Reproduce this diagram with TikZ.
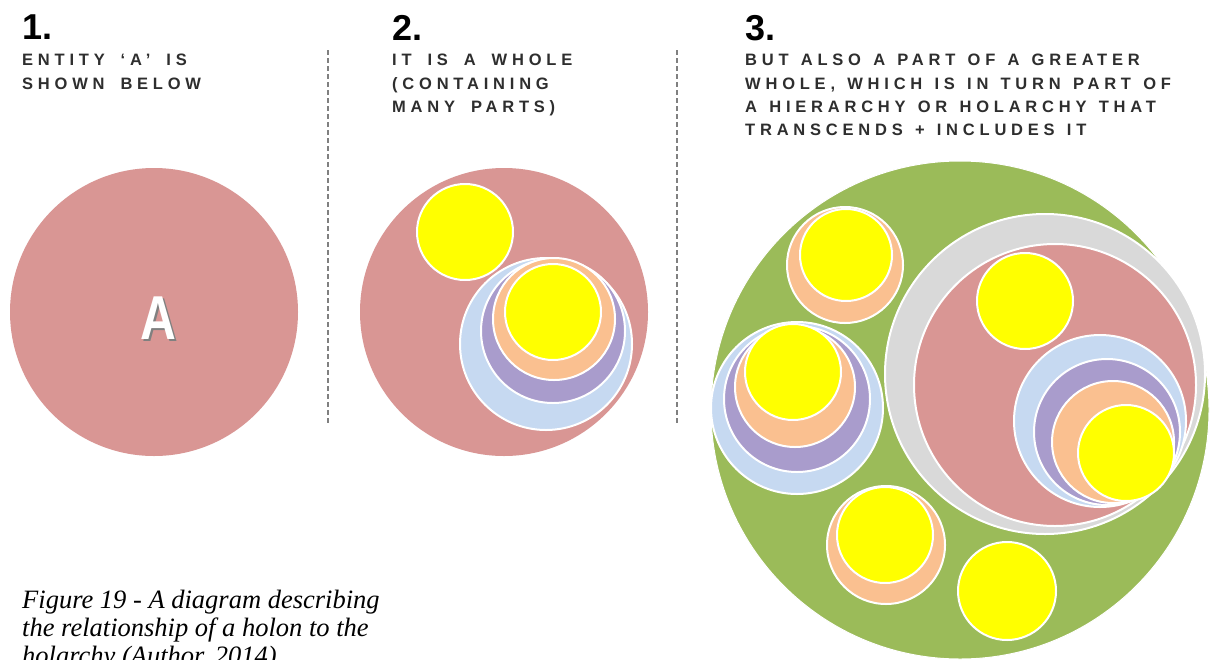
\documentclass[tikz,border=0pt]{standalone}
\usepackage{fontspec}
\setmainfont{Liberation Serif}
\setsansfont{Liberation Sans}
\newfontfamily\spacedfont[LetterSpace=29, WordSpace=1.7]{Liberation Sans}
\newcommand\tightspace{\spaceskip 12.2pt\relax}
\usetikzlibrary{positioning}

\definecolor{holonpink}{HTML}{D99694}
\definecolor{partyellow}{HTML}{FFFF00}
\definecolor{peach}{HTML}{FAC090}
\definecolor{lilac}{HTML}{A99CCC}
\definecolor{paleblue}{HTML}{C6D9F1}
\definecolor{ringgray}{HTML}{D9D9D9}
\definecolor{holagreen}{HTML}{9BBB59}
\definecolor{inkgray}{HTML}{2E2E2E}

\begin{document}
\begin{tikzpicture}[
    x=1pt, y=-1pt,
    disc/.style={fill=#1, draw=white, line width=2pt},
    heading/.style={anchor=north west, inner sep=0pt, text=black, font=\sffamily\bfseries\fontsize{36}{36}\selectfont},
    blurb/.style={anchor=north west, inner sep=0pt, align=left, text=inkgray, font=\spacedfont\bfseries\fontsize{16.5}{23.3}\selectfont},
    divider/.style={dash pattern=on 5pt off 3pt, gray, line width=1.2pt},
    bigletter/.style={inner sep=0pt, font=\sffamily\bfseries\fontsize{62}{62}\selectfont},
    caption/.style={anchor=north west, inner sep=0pt, align=left, font=\itshape\fontsize{26.5}{28}\selectfont}
]
    \useasboundingbox (0,0) rectangle (1231,659);
    \clip (0,0) rectangle (1231,659);
    \fill[white] (0,0) rectangle (1231,659);

    % Headings
    \node[heading] (num1) at (22,15) {1.};
    \node[heading] (num2) at (392,15) {2.};
    \node[heading] (num3) at (745,15) {3.};
    \node[blurb] (text1) at (22,54) {ENTITY ‘A’ IS\\SHOWN BELOW};
    \node[blurb] (text2) at (392,54) {IT IS A WHOLE\\(CONTAINING\\MANY PARTS)};
    \node[blurb] (text3) at (745,54) {\tightspace BUT ALSO A PART OF A GREATER\\\tightspace WHOLE, WHICH IS IN TURN PART OF\\\tightspace A HIERARCHY OR HOLARCHY THAT\\\tightspace TRANSCENDS + INCLUDES IT};

    % Dividers
    \coordinate (div1top) at (328,50);
    \coordinate (div1bot) at (328,425);
    \coordinate (div2top) at (677,50);
    \coordinate (div2bot) at (677,425);
    \draw[divider] (div1top) -- (div1bot);
    \draw[divider] (div2top) -- (div2bot);

    % Panel 1: the entity
    \fill[holonpink] (154,312) circle[radius=144];
    \node[bigletter, text=gray] (shadowA) at (160.5,320.5) {\scalebox{0.8}[1]{A}};
    \node[bigletter, text=white] (labelA) at (158.5,318.5) {\scalebox{0.8}[1]{A}};

    % Panel 2: a whole of parts
    \fill[holonpink] (504,312) circle[radius=144];
    \filldraw[disc=partyellow] (465,232) circle[radius=48];
    \foreach \c/\x/\y/\r in {paleblue/546/344/86, lilac/553/331/72, peach/554/319/61, partyellow/553/312/48}
        \filldraw[disc=\c] (\x,\y) circle[radius=\r];

    % Panel 3: part of a greater whole
    \filldraw[fill=holagreen, draw=white, line width=1pt] (960,410) circle[radius=249];
    \foreach \c/\x/\y/\r in {peach/845/265/58, partyellow/846/255/46}
        \filldraw[disc=\c] (\x,\y) circle[radius=\r];
    \foreach \c/\x/\y/\r in {paleblue/797/408/86, lilac/797/399/73, peach/795/387/60, partyellow/793/372/48}
        \filldraw[disc=\c] (\x,\y) circle[radius=\r];
    \filldraw[disc=ringgray] (1045,374) circle[radius=160];
    \filldraw[disc=holonpink] (1055,385) circle[radius=141];
    \filldraw[disc=partyellow] (1025,301) circle[radius=48];
    \foreach \c/\x/\y/\r in {paleblue/1100/421/86, lilac/1107/432/73, peach/1113/442/61, partyellow/1126/453/48}
        \filldraw[disc=\c] (\x,\y) circle[radius=\r];
    \foreach \c/\x/\y/\r in {peach/886/545/59, partyellow/885/535/48}
        \filldraw[disc=\c] (\x,\y) circle[radius=\r];
    \filldraw[disc=partyellow] (1007,591) circle[radius=49];

    % Caption
    \node[caption] (figcap) at (22,590) {Figure 19 - A diagram describing\\the relationship of a holon to the\\holarchy (Author, 2014)};
\end{tikzpicture}
\end{document}
